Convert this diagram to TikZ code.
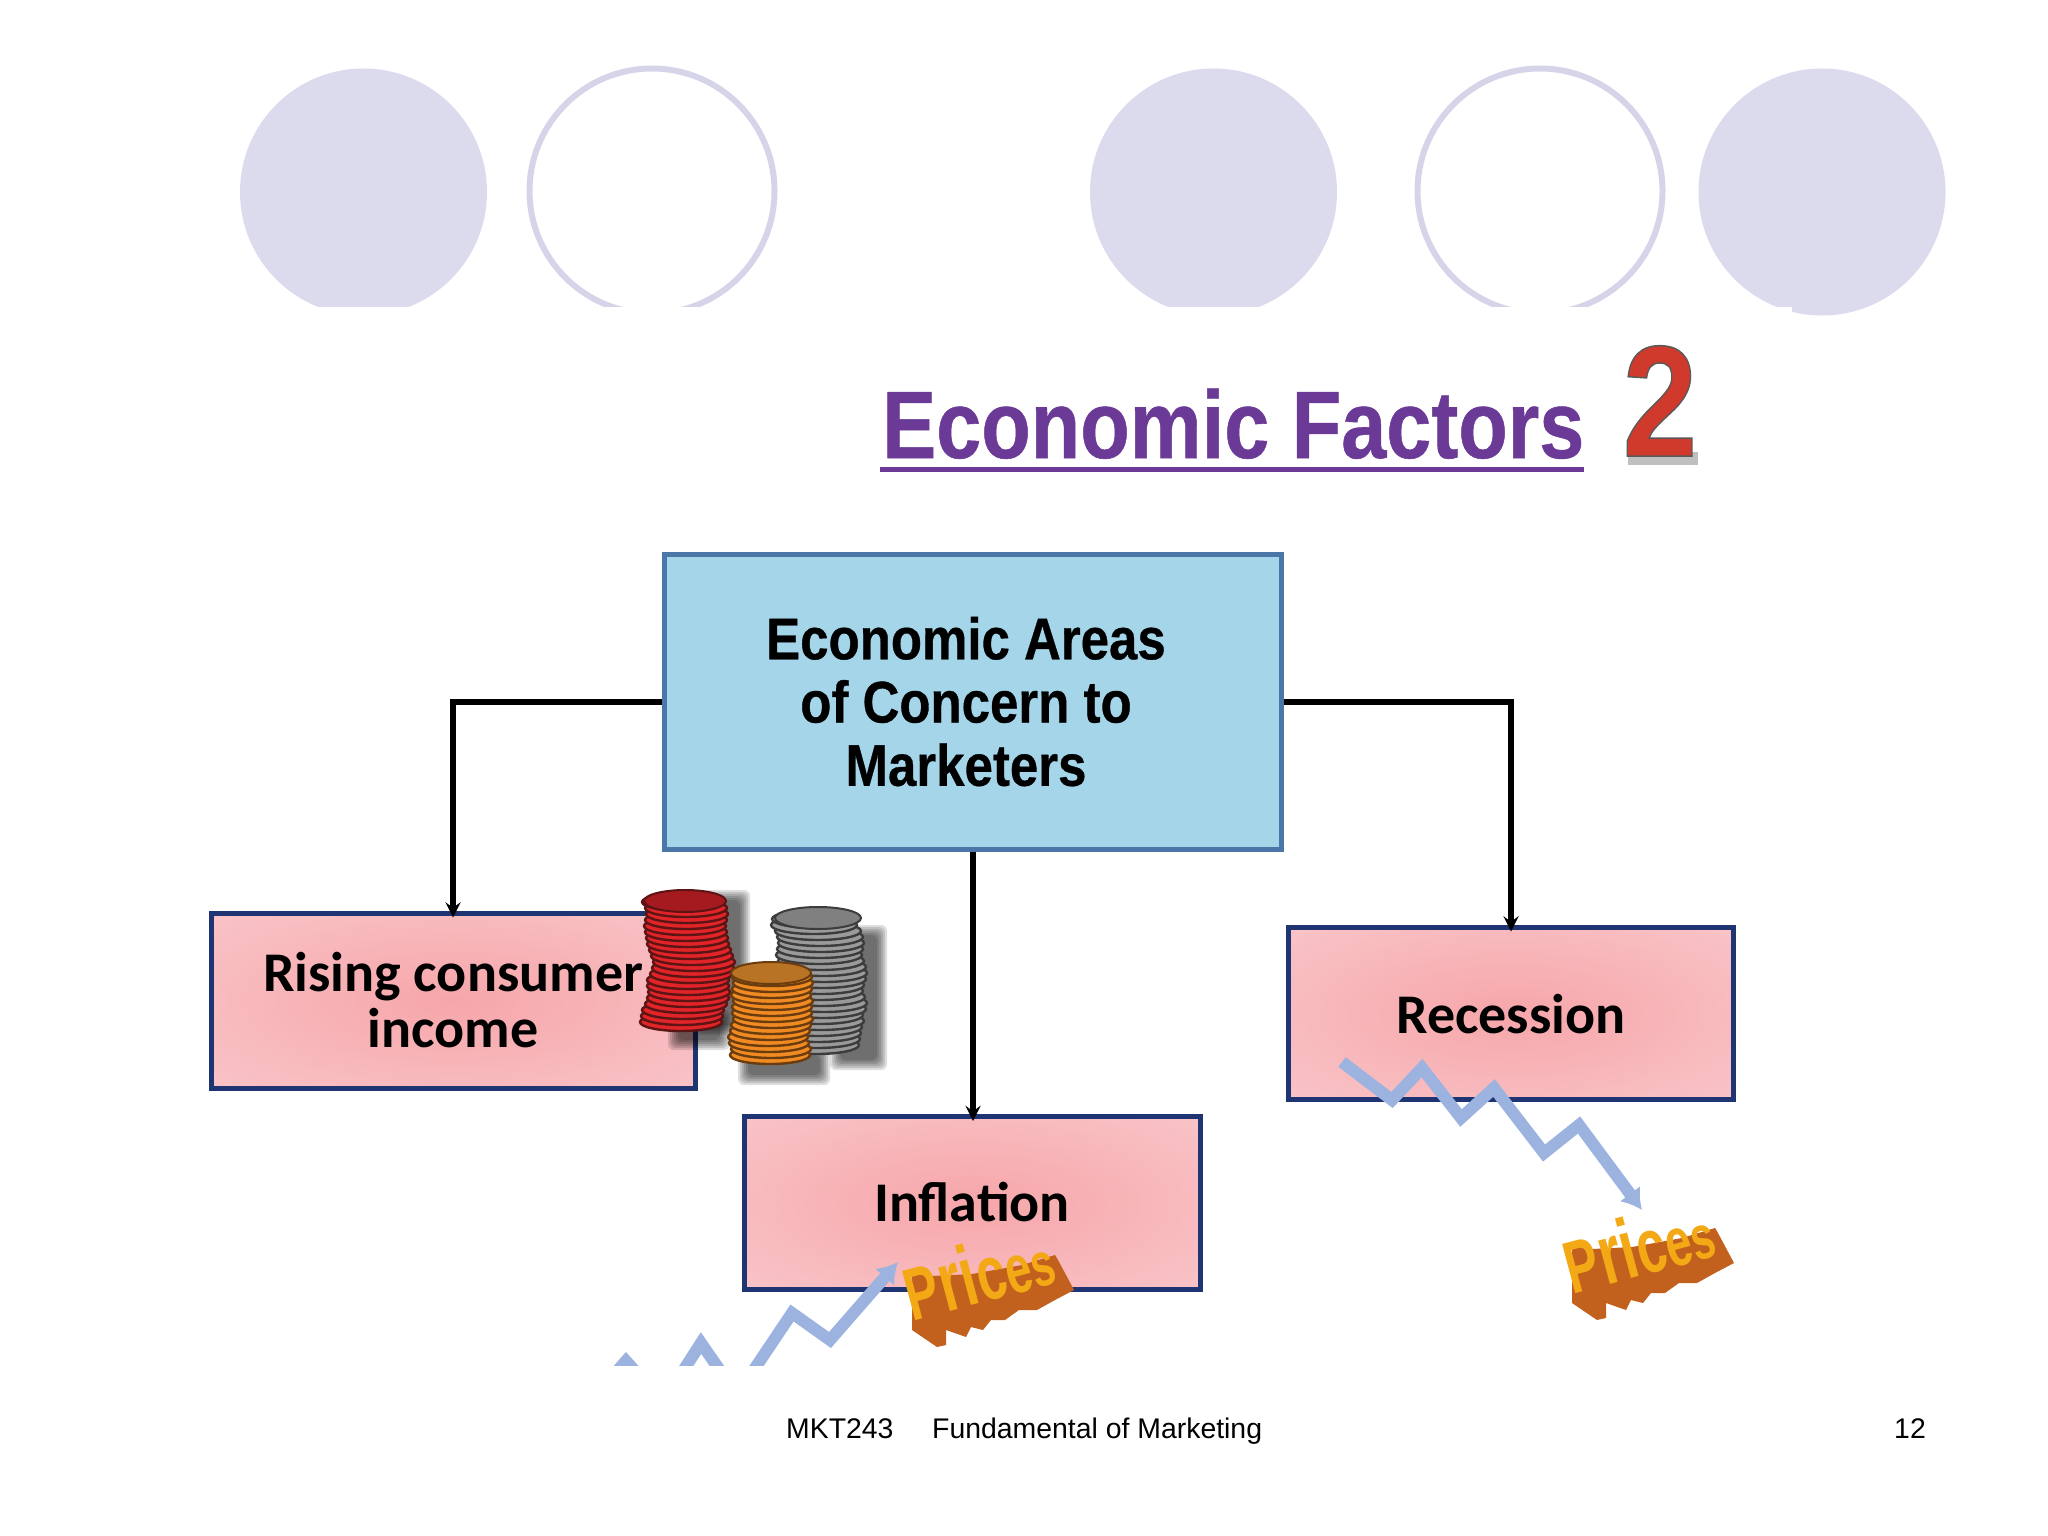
\documentclass[tikz,border=0pt]{standalone}
\usepackage{fontspec}
\setmainfont{Liberation Sans}
\newfontfamily\carlito{Carlito}
\newfontfamily\heavysans[FakeBold=0.6]{Liberation Sans Bold}
\usetikzlibrary{arrows, arrows.meta}

\definecolor{lilac}{HTML}{DCDAED}
\definecolor{lilacline}{HTML}{D6D4E9}
\definecolor{titlepurple}{HTML}{6A3A96}
\definecolor{numred}{HTML}{CF3A2C}
\definecolor{skyfill}{HTML}{A5D5E8}
\definecolor{skyline}{HTML}{4A76A8}
\definecolor{navyline}{HTML}{1F3473}
\definecolor{pinkmid}{HTML}{F6A6AA}
\definecolor{pinkside}{HTML}{FAD0D3}
\definecolor{pinkedge}{HTML}{FCE0E2}
\definecolor{zigblue}{HTML}{9BB3DE}
\definecolor{priceface}{HTML}{F3A815}
\definecolor{priceside}{HTML}{C2601E}
\definecolor{coinred}{HTML}{E02428}
\definecolor{coinredd}{HTML}{5C1414}
\definecolor{coinredl}{HTML}{A41A1E}
\definecolor{coingray}{HTML}{9A9A9A}
\definecolor{coingrayd}{HTML}{3C3C3C}
\definecolor{coingrayl}{HTML}{808080}
\definecolor{coinorange}{HTML}{F08A22}
\definecolor{coinoranged}{HTML}{6A3C10}
\definecolor{coinorangel}{HTML}{B87424}

\pgfdeclareradialshading{pinkglow}{\pgfpoint{0bp}{0bp}}{color(0bp)=(pinkmid); color(50bp)=(pinkside); color(70bp)=(pinkedge); color(100bp)=(pinkedge)}

\tikzset{
  solidball/.style={circle, fill=lilac, minimum size=247pt, inner sep=0pt},
  openball/.style={circle, draw=lilacline, line width=6pt, fill=white, minimum size=245pt, inner sep=0pt},
  skybox/.style={draw=skyline, fill=skyfill, line width=5.5pt, minimum width=617pt, minimum height=295pt, inner sep=0pt, font=\heavysans\fontsize{51}{55}\selectfont},
  pinkbox/.style={draw=navyline, line width=5pt, inner sep=0pt, shading=pinkglow, font=\carlito\fontsize{56}{56}\selectfont\bfseries},
  elbow/.style={-stealth, line width=5.5pt, shorten >=-7pt},
  zigzag/.style={-{Latex[length=20pt,width=26pt]}, draw=zigblue, line width=12pt}
}

% text set off-centre, box size not affected
\newcommand{\lowertext}[2]{\raisebox{#1}[0pt][0pt]{\begin{tabular}[c]{@{}c@{}}#2\end{tabular}}}
% one stack of coins, bottom coin first: x, top y, bottom y, half width, bright, dark, lid, wobble list
\newcommand{\coinstack}[8]{
  \foreach \dx [count=\i from 0] in {#8} {
    \draw[draw=#6, fill=#5, line width=2.4pt] ({#1+\dx},{#3-\i*6}) ellipse (#4 and 9);
  }
  \draw[draw=#6, fill=#7, line width=2pt] (#1,#2) ellipse (#4 and 11);
}
\newcommand{\priceword}{\scalebox{0.68}[1]{\bfseries\fontsize{74}{74}\selectfont P\kern2pt\fontsize{85}{85}\selectfont r\fontsize{85}{85}\selectfont i\fontsize{77}{77}\selectfont c\fontsize{69}{69}\selectfont e\fontsize{62}{62}\selectfont s}}

\begin{document}
\begin{tikzpicture}[x=1pt, y=-1pt]
  \useasboundingbox (0,0) rectangle (2048,1536);

  \node[solidball] (ball1) at (363.5,192) {};
  \node[openball] (ball2) at (652,191) {};
  \node[solidball] (ball3) at (1213.5,192) {};
  \node[openball] (ball4) at (1540,191) {};
  \node[solidball] (ball5) at (1822,192) {};
  % the circles are cut off along one line
  \fill[white] (200,307) rectangle (1792,330);

  \node[anchor=base west, inner sep=0pt, text=titlepurple, font=\heavysans\fontsize{81}{81}\selectfont, yscale=1.18, transform shape] (title) at (882,458) {Economic Factors};
  \fill[titlepurple] (880,467) rectangle (1584,472);
  \fill[black, opacity=0.25] (1628,452) rectangle (1698,465);
  \node[anchor=base, inner sep=0pt, text=numred, font=\fontsize{158}{158}\selectfont\bfseries, xscale=0.85, transform shape] (two) at (1660,456)
    {\special{pdf:code q 2 Tr 0.35 0.35 0.35 RG 1.5 w}2\special{pdf:code Q}};

  \node[skybox] (areas) at (973,702) {\hspace*{-14pt}\raisebox{-15pt}[0pt][0pt]{\scalebox{1}[1.15]{\begin{tabular}[c]{@{}c@{}}Economic Areas\\of Concern to\\Marketers\end{tabular}}}};
  \node[pinkbox, minimum width=484pt, minimum height=175pt] (rising) at (453,1000.5) {\lowertext{-14pt}{Rising consumer\\income}};
  \node[pinkbox, minimum width=456pt, minimum height=173pt] (inflation) at (972,1203) {\lowertext{-13pt}{Inflation}};
  \node[pinkbox, minimum width=445pt, minimum height=172pt] (recession) at (1511,1013) {\lowertext{-15pt}{Recession}};

  \draw[elbow] (areas.west) -| (rising.north);
  \draw[elbow] (areas.south) -- (areas.south |- inflation.north);
  \draw[elbow] (areas.east) -| (recession.north);

  % coin shadows
  \foreach \s in {0,2,4,6,8,10} {
    \fill[black, opacity=0.13, rounded corners=6pt] ({695+\s},{890+\s}) rectangle ({750-\s},{1035-\s});
    \fill[black, opacity=0.13, rounded corners=6pt] ({668+\s},{1010+\s}) rectangle ({730-\s},{1050-\s});
    \fill[black, opacity=0.13, rounded corners=6pt] ({830+\s},{925+\s}) rectangle ({887-\s},{1070-\s});
    \fill[black, opacity=0.13, rounded corners=6pt] ({738+\s},{1045+\s}) rectangle ({830-\s},{1085-\s});
  }
  \coinstack{685}{901}{1022}{41}{coinred}{coinredd}{coinredl}{-4,-3,-2,1,3,4,3,3,6,8,9,7,5,3,2,1,0,1,2,1,-2}
  \coinstack{818}{918}{1045}{43}{coingray}{coingrayd}{coingrayl}{-2,-1,0,1,3,2,5,6,4,2,3,5,6,5,3,1,2,3,2,0,-4,-3}
  \coinstack{771}{973}{1055}{40}{coinorange}{coinoranged}{coinorangel}{-1,0,-2,-3,-1,0,2,1,1,2,0,1,2,1}

  % rising prices, cut off at the lower edge of the drawing
  \begin{scope}
    \clip (0,0) rectangle (2048,1365);
    \coordinate (upfirst) at (590,1402);
    \coordinate (uptip) at (898,1262);
    \draw[zigzag] (upfirst) -- (626,1361) -- (663,1402) -- (701,1343) -- (737,1395) -- (792,1313) -- (830,1340) -- (uptip);
  \end{scope}

  % falling prices
  \coordinate (downfirst) at (1342,1062);
  \coordinate (downtip) at (1642,1210);
  \draw[zigzag] (downfirst) -- (1392,1100) -- (1422,1068) -- (1461,1118) -- (1494,1088) -- (1544,1153) -- (1579,1125) -- (downtip);

  \foreach \nm/\px/\py in {up/912/1250, down/1572/1223} {
    \begin{scope}[shift={(\px,\py)}]
      \fill[priceside] (0,20) -- (0,80) -- (25,97) -- (34,95) -- (34,80) -- (54,87) -- (59,77) -- (71,80) -- (79,70) -- (93,70) -- (107,60) -- (125,60) -- (143,50) -- (162,40) -- (146,10) -- (143,5) -- (110,15) -- (60,24) -- (20,26) -- cycle;
      \node[anchor=base, inner sep=0pt, text=priceface, rotate=15] (prices\nm) at (74,52) {\priceword};
    \end{scope}
  }

  \node[anchor=base west, inner sep=0pt, font=\fontsize{28.4}{34}\selectfont] (course) at (786,1438) {MKT243};
  \node[anchor=base west, inner sep=0pt, font=\fontsize{28.4}{34}\selectfont] (subject) at (932,1438) {Fundamental of Marketing};
  \node[anchor=base east, inner sep=0pt, font=\fontsize{28.4}{34}\selectfont] (page) at (1926,1438) {12};
\end{tikzpicture}
\end{document}
